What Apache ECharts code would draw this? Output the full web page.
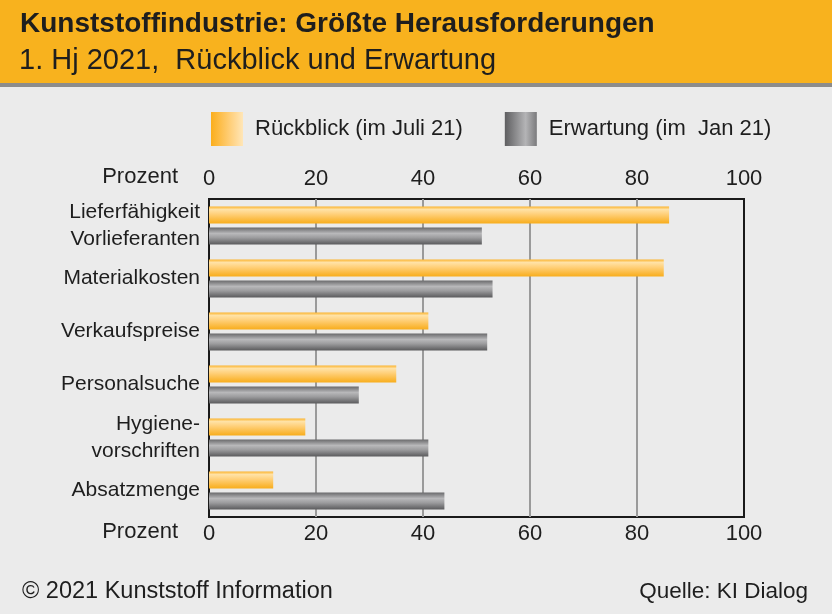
<!DOCTYPE html>
<html>
<head>
<meta charset="utf-8">
<script src="https://cdn.jsdelivr.net/npm/echarts@6/dist/echarts.min.js"></script>
<style>
html,body{margin:0;padding:0;background:#ebebeb;}
#c{width:832px;height:614px;}
</style>
</head>
<body>
<div id="c"></div>
<script>
const categories = ['Lieferfähigkeit\nVorlieferanten','Materialkosten','Verkaufspreise','Personalsuche','Hygiene-\nvorschriften','Absatzmenge'];
const rueckblick = [86, 85, 41, 35, 18, 12];
const erwartung = [51, 53, 52, 28, 41, 44];
const seriesNames = ['Rückblick (im Juli 21)', 'Erwartung (im  Jan 21)'];
const axisMin = 0, axisMax = 100, axisStep = 20;

const FONT = '"Liberation Sans", Arial, sans-serif';
const TXT = '#1e1e1e';

const orangeBar = new echarts.graphic.LinearGradient(0,0,0,1,[
  {offset:0,color:'#fbb32c'},{offset:0.18,color:'#ffe2a6'},{offset:0.45,color:'#ffd07a'},{offset:1,color:'#f8ad1c'}]);
const greyBar = new echarts.graphic.LinearGradient(0,0,0,1,[
  {offset:0,color:'#6a6a6c'},{offset:0.35,color:'#b8b8ba'},{offset:0.6,color:'#9c9c9e'},{offset:1,color:'#5a5a5c'}]);
const orangeLeg = new echarts.graphic.LinearGradient(0,0,1,0,[
  {offset:0,color:'#fbae1c'},{offset:0.6,color:'#ffcf7a'},{offset:1,color:'#ffe6b8'}]);
const greyLeg = new echarts.graphic.LinearGradient(0,0,1,0,[
  {offset:0,color:'#5e5e60'},{offset:0.65,color:'#b4b4b6'},{offset:1,color:'#7a7a7c'}]);

const chart = echarts.init(document.getElementById('c'));
chart.setOption({
  backgroundColor:'#ebebeb',
  animation:false,
  graphic:[
    {type:'rect',shape:{x:0,y:0,width:832,height:83},style:{fill:'#f8b21e'},z:-1},
    {type:'rect',shape:{x:0,y:83,width:832,height:4},style:{fill:'#8c8c8c'},z:-1},
    {type:'text',left:20,top:10,style:{text:'Kunststoffindustrie: Größte Herausforderungen',font:'bold 28px '+FONT,fill:TXT}},
    {type:'text',left:19,top:46,style:{text:'1. Hj 2021,  Rückblick und Erwartung',font:'29px '+FONT,fill:TXT}},
    {type:'text',right:654,top:166,style:{text:'Prozent',font:'22px '+FONT,fill:TXT}},
    {type:'text',right:654,top:521,style:{text:'Prozent',font:'22px '+FONT,fill:TXT}},
    {type:'text',left:22,top:580,style:{text:'© 2021 Kunststoff Information',font:'23.5px '+FONT,fill:TXT}},
    {type:'text',right:24,top:580,style:{text:'Quelle: KI Dialog',font:'22.5px '+FONT,fill:TXT}}
  ],
  legend:{
    left:211, top:112, padding:0, icon:'rect', itemWidth:32, itemHeight:34, itemGap:42,
    textStyle:{fontSize:22,fontFamily:FONT,color:TXT,padding:[0,0,0,7]},
    data:[{name:seriesNames[0],itemStyle:{color:orangeLeg}},{name:seriesNames[1],itemStyle:{color:greyLeg}}]
  },
  grid:{left:209,right:88,top:199,bottom:97,show:true,borderColor:'#1a1a1a',borderWidth:2,backgroundColor:'transparent'},
  xAxis:[
    {type:'value',min:axisMin,max:axisMax,interval:axisStep,position:'bottom',
     axisLine:{show:false},axisTick:{show:false},
     axisLabel:{fontSize:22,fontFamily:FONT,color:TXT,margin:6},
     splitLine:{show:true,showMinLine:false,showMaxLine:false,lineStyle:{color:'#9a9a9a',width:2}}},
    {type:'value',min:axisMin,max:axisMax,interval:axisStep,position:'top',
     axisLine:{show:false},axisTick:{show:false},
     axisLabel:{fontSize:22,fontFamily:FONT,color:TXT,margin:9},
     splitLine:{show:false}}
  ],
  yAxis:{type:'category',data:categories,inverse:true,
    axisLine:{show:false},axisTick:{show:false},
    axisLabel:{fontSize:21,fontFamily:FONT,color:TXT,margin:9,lineHeight:27,align:'right'}},
  series:[
    {name:seriesNames[0],type:'bar',data:rueckblick,barWidth:17,barGap:'24%',itemStyle:{color:orangeBar},z:3},
    {name:seriesNames[1],type:'bar',data:erwartung,barWidth:17,barGap:'24%',itemStyle:{color:greyBar},z:3}
  ]
});
</script>
</body>
</html>
